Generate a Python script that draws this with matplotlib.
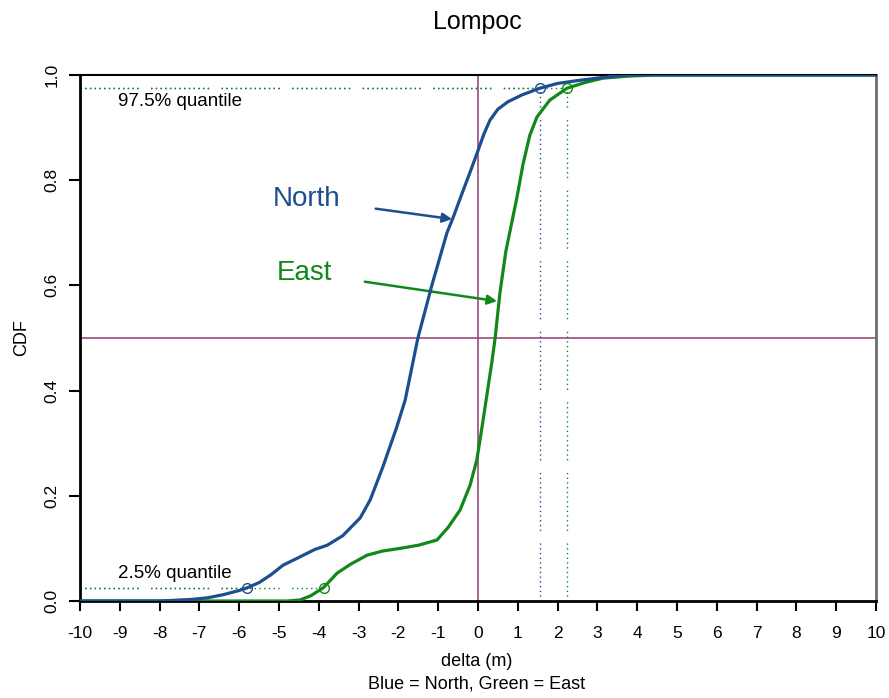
import matplotlib
matplotlib.use("Agg")
import matplotlib.pyplot as plt

plt.rcParams['font.family'] = ['Liberation Sans', 'DejaVu Sans']

# Empirical CDF of position error, North component
north_x = [-10, -8.0, -7.2, -6.8, -6.4, -6.0, -5.8, -5.5, -5.2, -4.9, -4.47, -4.1,
           -3.79, -3.4, -2.96, -2.71, -2.39, -2.04, -1.83, -1.51, -1.16, -0.78,
           -0.63, -0.40, -0.20, -0.03, 0.15, 0.30, 0.50, 0.75, 1.1, 1.56, 2.0, 2.56,
           3.1, 3.74, 10]
north_y = [0.0, 0.0, 0.003, 0.006, 0.012, 0.020, 0.025, 0.035, 0.050, 0.068, 0.084, 0.098,
           0.106, 0.124, 0.158, 0.192, 0.255, 0.331, 0.382, 0.50, 0.60, 0.70,
           0.728, 0.775, 0.815, 0.850, 0.888, 0.914, 0.935, 0.949, 0.962, 0.975, 0.984,
           0.990, 0.995, 1.0, 1.0]

# Empirical CDF of position error, East component
east_x = [-10, -4.8, -4.47, -4.2, -3.89, -3.7, -3.54, -3.2, -2.79, -2.4, -1.96, -1.5,
          -1.03, -0.75, -0.45, -0.2, -0.03, 0.1, 0.22, 0.35, 0.43, 0.55, 0.70,
          0.85, 0.98, 1.13, 1.30, 1.48, 1.8, 2.24, 2.7, 3.14, 3.8, 4.5, 10]
east_y = [0.0, 0.0, 0.002, 0.010, 0.025, 0.040, 0.053, 0.070, 0.087, 0.095, 0.100, 0.106,
          0.116, 0.140, 0.173, 0.220, 0.268, 0.330, 0.390, 0.455, 0.50, 0.585, 0.665,
          0.720, 0.768, 0.830, 0.885, 0.920, 0.952, 0.975, 0.986, 0.994, 0.998, 1.0, 1.0]

# 2.5% and 97.5% quantiles
north_q = [-5.80, 1.56]
east_q = [-3.87, 2.24]
q_levels = [0.025, 0.975]

x_ticks = list(range(-10, 11))
y_ticks = [0.0, 0.2, 0.4, 0.6, 0.8, 1.0]

blue = '#1d4f8e'
green = '#13881a'
purple = '#9a4c7c'

fig = plt.figure(figsize=(8.89, 6.98), dpi=100)
ax = fig.add_axes([80 / 889, 1 - 601 / 698, 796 / 889, 526 / 698])
ax.set_xlim(-10, 10)
ax.set_ylim(0, 1)

# reference lines
ax.axvline(0, color=purple, lw=1.2, zorder=1)
ax.axhline(0.5, color=purple, lw=1.2, zorder=1)

dots = (0, [1, 2.4] * 12 + [1, 9])
for q, lvl in zip(north_q, q_levels):
    ax.plot([-10, q], [lvl, lvl], color=blue, lw=1.0, ls=dots, zorder=1)
for q, lvl in zip(east_q, q_levels):
    ax.plot([-10, q], [lvl, lvl], color=green, lw=1.0, ls=dots, zorder=1.1)
ax.plot([north_q[1], north_q[1]], [0, q_levels[1]], color=blue, lw=1.0, ls=dots, zorder=1)
ax.plot([east_q[1], east_q[1]], [0, q_levels[1]], color=green, lw=1.0, ls=dots, zorder=1)

ax.plot(east_x, east_y, color=green, lw=2.3, zorder=3, solid_joinstyle='round')
ax.plot(north_x, north_y, color=blue, lw=2.3, zorder=4, solid_joinstyle='round')

ax.plot(north_q, q_levels, 'o', mfc='none', mec=blue, ms=7, mew=1.0, zorder=5)
ax.plot(east_q, q_levels, 'o', mfc='none', mec=green, ms=7, mew=1.0, zorder=5)

ax.text(-9.05, 0.950, '97.5% quantile', fontsize=13.5, va='center', ha='left')
ax.text(-9.05, 0.053, '2.5% quantile', fontsize=13.5, va='center', ha='left')

ax.annotate('North', xy=(-0.65, 0.726), xytext=(-4.32, 0.764), color=blue,
            fontsize=20, ha='center', va='center',
            arrowprops=dict(arrowstyle='-|>', color=blue, lw=1.8,
                            mutation_scale=14, shrinkA=24, shrinkB=0))
ax.annotate('East', xy=(0.48, 0.570), xytext=(-4.37, 0.624), color=green,
            fontsize=20, ha='center', va='center',
            arrowprops=dict(arrowstyle='-|>', color=green, lw=1.8,
                            mutation_scale=14, shrinkA=22, shrinkB=0))

# frame
for s in ['left', 'bottom']:
    ax.spines[s].set_linewidth(2)
    ax.spines[s].set_color('black')
ax.spines['top'].set_linewidth(1.5)
ax.spines['top'].set_color('black')
ax.spines['right'].set_linewidth(2)
ax.spines['right'].set_color('#6e6e6e')

ax.set_xticks(x_ticks)
ax.set_xticklabels([str(t) for t in x_ticks])
ax.set_yticks(y_ticks)
ax.set_yticklabels([f'{t:.1f}' for t in y_ticks], rotation=90, va='center')
ax.tick_params(axis='x', length=7, width=1.5, pad=11, labelsize=12.5)
ax.tick_params(axis='y', length=8, width=1.5, pad=7, labelsize=12.5)

ax.set_ylabel('CDF', fontsize=13, labelpad=10)
fig.text(477 / 889, 1 - 662 / 698, 'delta (m)', fontsize=13, ha='center', va='center')
fig.text(477 / 889, 1 - 684 / 698, 'Blue = North, Green = East', fontsize=13,
         ha='center', va='center')
fig.text(477 / 889, 1 - 22 / 698, 'Lompoc', fontsize=18, ha='center', va='center')

fig.savefig('out.png', dpi=100)
